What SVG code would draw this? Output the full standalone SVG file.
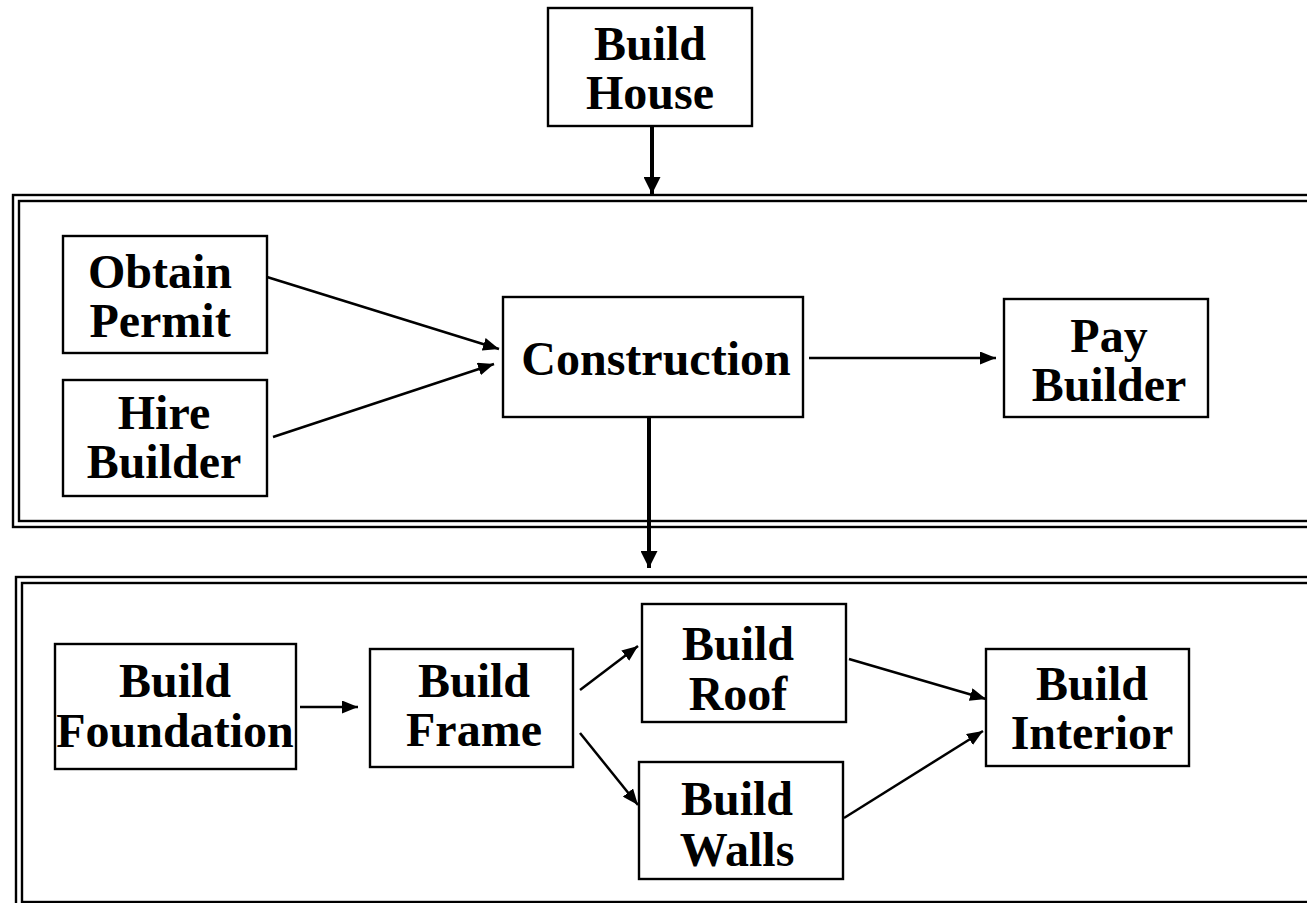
<svg xmlns="http://www.w3.org/2000/svg" width="1307" height="903" viewBox="0 0 1307 903">
  <style>
    .box { fill: #ffffff; stroke: #000000; stroke-width: 2.4; }
    .frame { fill: none; stroke: #000000; stroke-width: 2.4; }
    .lbl { font-family: "Liberation Serif", "Times New Roman", serif; font-weight: bold; font-size: 48px; fill: #000000; text-anchor: middle; }
    .thin { stroke: #000000; stroke-width: 2.5; fill: none; marker-end: url(#headThin); }
    .thick { stroke: #000000; stroke-width: 4; fill: none; marker-end: url(#headThick); }
  </style>
  <defs>
    <marker id="headThin" markerUnits="userSpaceOnUse" markerWidth="16" markerHeight="13" refX="16" refY="6.5" orient="auto">
      <path d="M0,0 L16,6.5 L0,13 Z" fill="#000000"/>
    </marker>
    <marker id="headThick" markerUnits="userSpaceOnUse" markerWidth="17" markerHeight="17" refX="17" refY="8.5" orient="auto">
      <path d="M0,0 L17,8.5 L0,17 Z" fill="#000000"/>
    </marker>
  </defs>

  <rect width="1307" height="903" fill="#ffffff"/>

  <!-- upper phase frame (double line, runs off the right edge) -->
  <g id="frame-top">
    <rect class="frame" x="13" y="195" width="1320" height="332"/>
    <rect class="frame" x="19" y="201" width="1310" height="320"/>
  </g>

  <!-- lower phase frame (double line, runs off the right and bottom edges) -->
  <g id="frame-bottom">
    <rect class="frame" x="16" y="577" width="1320" height="340"/>
    <rect class="frame" x="22" y="583" width="1310" height="319"/>
  </g>

  <!-- connectors -->
  <g id="connectors">
    <line class="thick" x1="652" y1="126" x2="652" y2="194"/>
    <line class="thick" x1="649" y1="417" x2="649" y2="568"/>
    <line class="thin" x1="267" y1="277" x2="499" y2="349"/>
    <line class="thin" x1="273" y1="437" x2="494" y2="364"/>
    <line class="thin" x1="809" y1="358" x2="996" y2="358"/>
    <line class="thin" x1="300" y1="707" x2="358" y2="707"/>
    <line class="thin" x1="580" y1="690" x2="638" y2="646"/>
    <line class="thin" x1="580" y1="733" x2="638" y2="805"/>
    <line class="thin" x1="849" y1="659" x2="986" y2="699"/>
    <line class="thin" x1="844" y1="818" x2="983" y2="731"/>
  </g>

  <g id="build-house">
    <rect class="box" x="548" y="8" width="204" height="118"/>
    <text class="lbl" x="650" y="60">Build</text>
    <text class="lbl" x="650" y="109">House</text>
  </g>

  <g id="obtain-permit">
    <rect class="box" x="63" y="236" width="204" height="117"/>
    <text class="lbl" x="160" y="288">Obtain</text>
    <text class="lbl" x="160" y="337">Permit</text>
  </g>

  <g id="hire-builder">
    <rect class="box" x="63" y="380" width="204" height="116"/>
    <text class="lbl" x="164" y="429">Hire</text>
    <text class="lbl" x="164" y="478">Builder</text>
  </g>

  <g id="construction">
    <rect class="box" x="503" y="297" width="300" height="120"/>
    <text class="lbl" x="656" y="375">Construction</text>
  </g>

  <g id="pay-builder">
    <rect class="box" x="1004" y="299" width="204" height="118"/>
    <text class="lbl" x="1109" y="352">Pay</text>
    <text class="lbl" x="1109" y="401">Builder</text>
  </g>

  <g id="build-foundation">
    <rect class="box" x="55" y="644" width="241" height="125"/>
    <text class="lbl" x="175" y="697">Build</text>
    <text class="lbl" x="175" y="747">Foundation</text>
  </g>

  <g id="build-frame">
    <rect class="box" x="370" y="649" width="203" height="118"/>
    <text class="lbl" x="474" y="697">Build</text>
    <text class="lbl" x="474" y="746">Frame</text>
  </g>

  <g id="build-roof">
    <rect class="box" x="642" y="604" width="204" height="118"/>
    <text class="lbl" x="738" y="660">Build</text>
    <text class="lbl" x="738" y="710">Roof</text>
  </g>

  <g id="build-walls">
    <rect class="box" x="639" y="762" width="204" height="117"/>
    <text class="lbl" x="737" y="815">Build</text>
    <text class="lbl" x="737" y="866">Walls</text>
  </g>

  <g id="build-interior">
    <rect class="box" x="986" y="649" width="203" height="117"/>
    <text class="lbl" x="1092" y="700">Build</text>
    <text class="lbl" x="1092" y="749">Interior</text>
  </g>
</svg>
